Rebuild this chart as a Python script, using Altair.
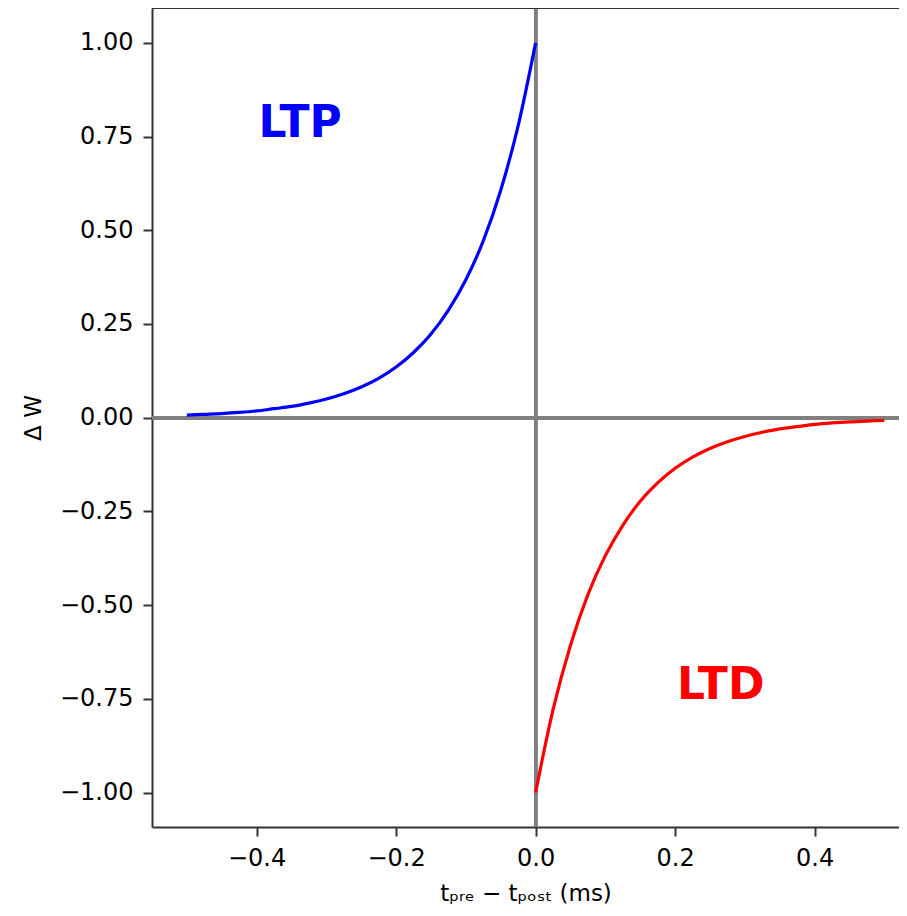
import altair as alt
import pandas as pd

# LTP branch (pre before post)
ltp_x = [-0.5, -0.475, -0.45, -0.425, -0.4, -0.375, -0.35, -0.325, -0.3, -0.275, -0.25,
         -0.225, -0.2, -0.175, -0.15, -0.125, -0.1, -0.075, -0.05, -0.025, 0.0]
ltp_y = [0.007, 0.009, 0.011, 0.014, 0.018, 0.024, 0.030, 0.039, 0.050, 0.064, 0.082,
         0.105, 0.135, 0.174, 0.223, 0.287, 0.368, 0.472, 0.607, 0.779, 1.0]

# LTD branch (post before pre)
ltd_x = [0.0, 0.025, 0.05, 0.075, 0.1, 0.125, 0.15, 0.175, 0.2, 0.225, 0.25,
         0.275, 0.3, 0.325, 0.35, 0.375, 0.4, 0.425, 0.45, 0.475, 0.5]
ltd_y = [-1.0, -0.779, -0.607, -0.472, -0.368, -0.287, -0.223, -0.174, -0.135, -0.105, -0.082,
         -0.064, -0.050, -0.039, -0.030, -0.024, -0.018, -0.014, -0.011, -0.009, -0.007]

x_ticks = [-0.4, -0.2, 0.0, 0.2, 0.4]
y_ticks = [-1.0, -0.75, -0.5, -0.25, 0.0, 0.25, 0.5, 0.75, 1.0]

labels = ["LTP", "LTD"]
label_x = [-0.4, 0.2]
label_y = [0.75, -0.75]
label_colors = ["#0000ff", "#ff0000"]

x_domain = [-0.55, 0.521]
y_domain = [-1.092, 1.093]

FONT = "DejaVu Sans"

ltp_df = pd.DataFrame({"x": ltp_x, "y": ltp_y})
ltd_df = pd.DataFrame({"x": ltd_x, "y": ltd_y})
lab_df = pd.DataFrame({"label": labels, "x": label_x, "y": label_y, "c": label_colors})

xs = alt.Scale(domain=x_domain, nice=False, zero=False)
ys = alt.Scale(domain=y_domain, nice=False, zero=False)

x_axis = alt.Axis(values=x_ticks, format=".1f", grid=False,
                  title="tₚᵣₑ − tₚₒₛₜ (ms)", titlePadding=12)
y_axis = alt.Axis(values=y_ticks, format=".2f", grid=False,
                  title="Δ W", titlePadding=14)

base_x = alt.X("x:Q", scale=xs, axis=x_axis)
base_y = alt.Y("y:Q", scale=ys, axis=y_axis)

ltp = alt.Chart(ltp_df).mark_line(color="#0000ff", strokeWidth=3.2, interpolate="monotone").encode(
    x=base_x, y=base_y)
ltd = alt.Chart(ltd_df).mark_line(color="#ff0000", strokeWidth=3.2, interpolate="monotone").encode(
    x=alt.X("x:Q", scale=xs), y=alt.Y("y:Q", scale=ys))

hline = alt.Chart(ltp_df).mark_rule(color="#808080", strokeWidth=3).encode(
    y=alt.datum(0.0, scale=ys))
vline = alt.Chart(ltp_df).mark_rule(color="#808080", strokeWidth=3).encode(
    x=alt.datum(0.0, scale=xs))
top_spine = alt.Chart(ltp_df).mark_rule(color="#333333", strokeWidth=2).encode(
    y=alt.datum(y_domain[1], scale=ys))

text = alt.Chart(lab_df).mark_text(font=FONT, fontSize=44, fontWeight="bold",
                                   align="left", baseline="alphabetic", dx=2).encode(
    x=alt.X("x:Q", scale=xs), y=alt.Y("y:Q", scale=ys),
    text="label:N", color=alt.Color("c:N", scale=None))

chart = alt.layer(hline, vline, ltp, ltd, text, top_spine).properties(
    width=747, height=819,
    autosize=alt.AutoSizeParams(type="none"),
    padding={"left": 144, "top": 0, "right": 0, "bottom": 86},
).configure_view(stroke=None).configure_axis(
    labelFont=FONT, labelFontSize=24, labelColor="#000000",
    titleFont=FONT, titleFontSize=23, titleFontWeight="normal", titleColor="#000000",
    domainColor="#333333", domainWidth=2,
    tickColor="#333333", tickWidth=2, tickSize=9, labelPadding=10,
)

chart.save("out.html", embed_options={"renderer": "svg", "actions": False})
